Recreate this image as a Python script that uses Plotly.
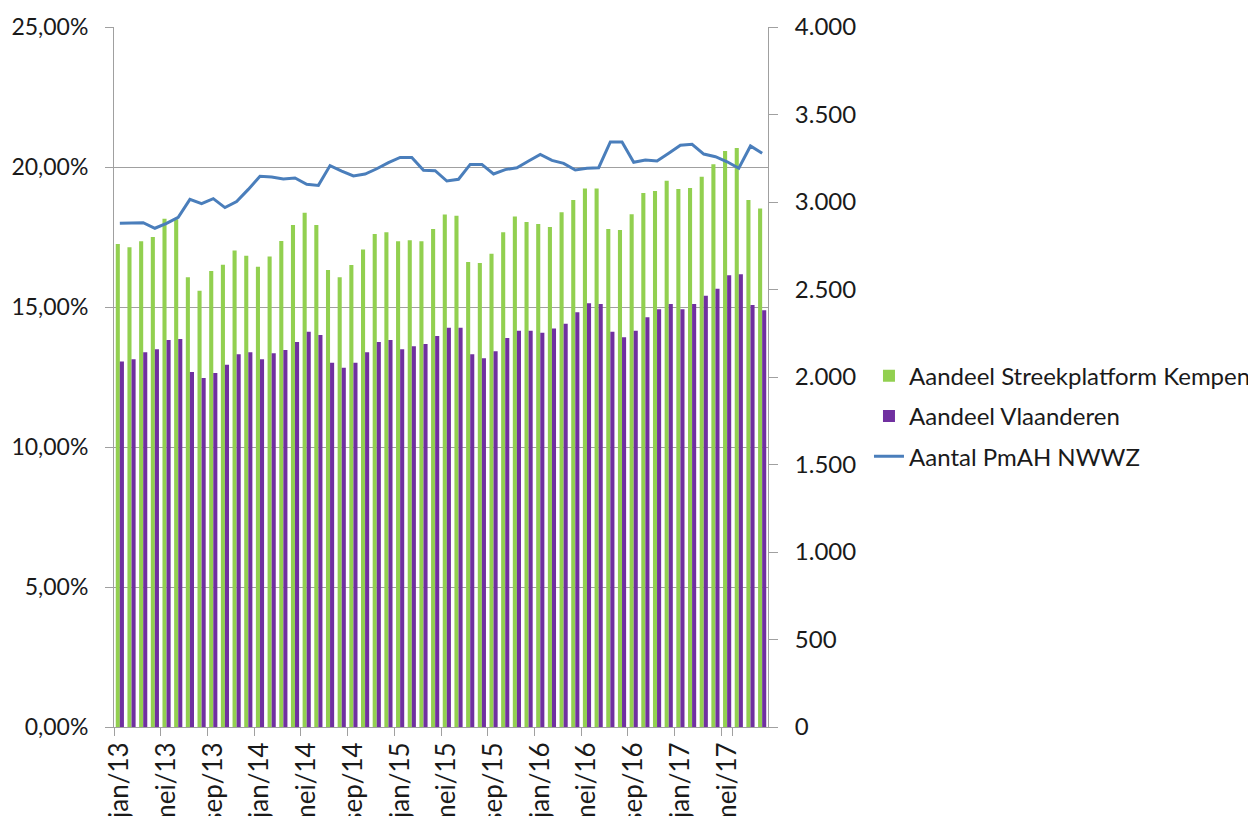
import plotly.graph_objects as go

months = [
    "jan/13", "feb/13", "mrt/13", "apr/13", "mei/13", "jun/13", "jul/13", "aug/13", "sep/13", "okt/13", "nov/13", "dec/13",
    "jan/14", "feb/14", "mrt/14", "apr/14", "mei/14", "jun/14", "jul/14", "aug/14", "sep/14", "okt/14", "nov/14", "dec/14",
    "jan/15", "feb/15", "mrt/15", "apr/15", "mei/15", "jun/15", "jul/15", "aug/15", "sep/15", "okt/15", "nov/15", "dec/15",
    "jan/16", "feb/16", "mrt/16", "apr/16", "mei/16", "jun/16", "jul/16", "aug/16", "sep/16", "okt/16", "nov/16", "dec/16",
    "jan/17", "feb/17", "mrt/17", "apr/17", "mei/17", "jun/17", "jul/17", "aug/17",
]

aandeel_kempen = [
    17.25, 17.13, 17.35, 17.50, 18.15, 18.13, 16.06, 15.58, 16.29, 16.51, 17.02, 16.83,
    16.44, 16.80, 17.36, 17.93, 18.37, 17.93, 16.32, 16.06, 16.50, 17.05, 17.61, 17.67,
    17.35, 17.38, 17.35, 17.79, 18.30, 18.26, 16.61, 16.57, 16.90, 17.67, 18.23, 18.04,
    17.96, 17.86, 18.38, 18.82, 19.23, 19.23, 17.79, 17.75, 18.31, 19.07, 19.14, 19.51,
    19.21, 19.25, 19.65, 20.10, 20.57, 20.68, 18.82, 18.52,
]

aandeel_vlaanderen = [
    13.05, 13.13, 13.38, 13.49, 13.82, 13.86, 12.68, 12.46, 12.64, 12.94, 13.31, 13.38,
    13.13, 13.35, 13.46, 13.75, 14.12, 14.00, 13.01, 12.83, 13.01, 13.38, 13.75, 13.82,
    13.49, 13.60, 13.68, 13.96, 14.26, 14.26, 13.31, 13.17, 13.42, 13.89, 14.15, 14.15,
    14.08, 14.23, 14.40, 14.81, 15.13, 15.11, 14.12, 13.92, 14.15, 14.63, 14.92, 15.11,
    14.92, 15.11, 15.40, 15.65, 16.13, 16.17, 15.07, 14.88,
]

aantal_pmah = [
    2878, 2882, 2882, 2850, 2878, 2913, 3015, 2990, 3019, 2968, 3002, 3072,
    3147, 3143, 3131, 3137, 3101, 3095, 3208, 3177, 3149, 3160, 3190, 3225,
    3255, 3255, 3181, 3179, 3120, 3130, 3215, 3215, 3160, 3185, 3196, 3234,
    3272, 3238, 3221, 3183, 3193, 3196, 3343, 3343, 3227, 3240, 3234, 3278,
    3324, 3330, 3274, 3259, 3230, 3193, 3320, 3278,
]

tick_labels = months[::4]

FONT = "Lato"
FS = 24
GRAY = "#A0A0A0"
TXT = "#1A1A1A"

fig = go.Figure()
fig.add_trace(go.Bar(x=months, y=aandeel_kempen, name="Aandeel Streekplatform Kempen",
                     legendgroup="a", marker=dict(color="#92D050", line=dict(width=0))))
fig.add_trace(go.Bar(x=months, y=aandeel_vlaanderen, name="Aandeel Vlaanderen",
                     legendgroup="b", marker=dict(color="#7030A0", line=dict(width=0))))
fig.add_trace(go.Scatter(x=months, y=aantal_pmah, name="Aantal PmAH NWWZ", mode="lines",
                         legendgroup="c", line=dict(color="#4A7EBB", width=3), yaxis="y2"))

fig.update_layout(
    width=1256, height=816,
    margin=dict(l=106, r=496, t=19, b=97, autoexpand=False),
    paper_bgcolor="white", plot_bgcolor="white",
    barmode="group", bargap=0.3, bargroupgap=0,
    separators=",.",
    font=dict(family=FONT, size=FS, color=TXT),
    showlegend=True,
    legend=dict(x=1.1544, xanchor="left", y=0.444, yanchor="middle",
                font=dict(family=FONT, size=FS, color=TXT),
                bgcolor="rgba(0,0,0,0)", traceorder="grouped", tracegroupgap=6,
                itemwidth=30),
    xaxis=dict(type="category", categoryorder="array", categoryarray=months,
               tickmode="array", tickvals=tick_labels, ticktext=tick_labels,
               tickson="boundaries", tickangle=-90, ticks="outside", ticklen=8,
               tickcolor=GRAY, showline=True, linecolor=GRAY, linewidth=1,
               showgrid=False, mirror=False, automargin=False,
               ticklabelstandoff=4,
               tickfont=dict(family=FONT, size=26, color=TXT)),
    yaxis=dict(range=[0, 25], dtick=5, tick0=0, ticksuffix="%", tickformat=".2f",
               showgrid=True, gridcolor=GRAY, gridwidth=1,
               showline=True, linecolor=GRAY, linewidth=1,
               ticks="outside", ticklen=8, tickcolor=GRAY,
               zeroline=False, ticklabelstandoff=12, automargin=False,
               tickfont=dict(family=FONT, size=23, color=TXT)),
    yaxis2=dict(range=[0, 4000], dtick=500, tick0=0, tickformat=",d",
                overlaying="y", side="right", showgrid=False,
                showline=True, linecolor=GRAY, linewidth=1,
                ticks="outside", ticklen=9, tickcolor=GRAY,
                zeroline=False, ticklabelstandoff=12, automargin=False,
                tickfont=dict(family=FONT, size=FS, color=TXT)),
)

fig.write_html("out.html")
